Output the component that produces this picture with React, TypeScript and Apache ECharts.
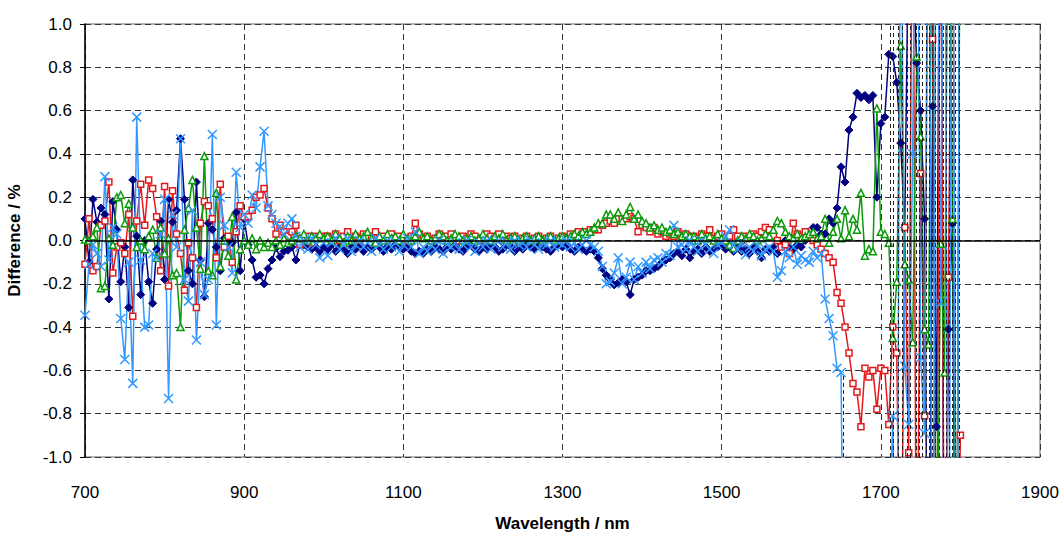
import React, { useEffect, useRef } from "react";
import * as echarts from "echarts";

const wavelengths = [
  700, 705, 710, 715, 720, 725, 730, 735, 740, 745, 750, 755, 760, 765, 770, 775, 780, 785, 790, 795,
  800, 805, 810, 815, 820, 825, 830, 835, 840, 845, 850, 855, 860, 865, 870, 875, 880, 885, 890, 895,
  900, 905, 910, 915, 920, 925, 930, 935, 940, 945, 950, 955, 960, 965, 970, 975, 980, 985, 990, 995,
  1000, 1005, 1010, 1015, 1020, 1025, 1030, 1035, 1040, 1045, 1050, 1055, 1060, 1065, 1070, 1075, 1080, 1085, 1090, 1095,
  1100, 1105, 1110, 1115, 1120, 1125, 1130, 1135, 1140, 1145, 1150, 1155, 1160, 1165, 1170, 1175, 1180, 1185, 1190, 1195,
  1200, 1205, 1210, 1215, 1220, 1225, 1230, 1235, 1240, 1245, 1250, 1255, 1260, 1265, 1270, 1275, 1280, 1285, 1290, 1295,
  1300, 1305, 1310, 1315, 1320, 1325, 1330, 1335, 1340, 1345, 1350, 1355, 1360, 1365, 1370, 1375, 1380, 1385, 1390, 1395,
  1400, 1405, 1410, 1415, 1420, 1425, 1430, 1435, 1440, 1445, 1450, 1455, 1460, 1465, 1470, 1475, 1480, 1485, 1490, 1495,
  1500, 1505, 1510, 1515, 1520, 1525, 1530, 1535, 1540, 1545, 1550, 1555, 1560, 1565, 1570, 1575, 1580, 1585, 1590, 1595,
  1600, 1605, 1610, 1615, 1620, 1625, 1630, 1635, 1640, 1645, 1650, 1655, 1660, 1665, 1670, 1675, 1680, 1685, 1690, 1695,
  1700, 1705, 1710, 1715, 1720, 1725, 1730, 1735, 1740, 1745, 1750, 1755, 1760, 1765, 1770, 1775, 1780, 1785, 1790, 1795,
  1800,
];

const seriesNavy = [
  0.10, -0.10, 0.19, 0.085, 0.15, 0.12, -0.27, 0.18, 0.05, -0.19, -0.03, -0.31, 0.28, 0.02, -0.25, 0.00, -0.19, -0.29, -0.04, 0.09,
  -0.18, 0.19, 0.085, 0.14, 0.47, 0.19, -0.14, -0.20, 0.27, -0.09, -0.26, 0.08, 0.05, -0.03, -0.14, 0.01, -0.01, -0.01, 0.13, -0.14,
  0.10, -0.02, -0.09, -0.17, -0.16, -0.20, -0.13, -0.09, -0.035, -0.075, -0.05, -0.045, -0.03, -0.09, -0.02, -0.02, -0.03, -0.04, -0.03, -0.05,
  -0.03, -0.04, -0.02, -0.05, -0.03, -0.04, -0.06, -0.03, -0.04, -0.02, -0.05, -0.03, -0.04, -0.02, -0.03, -0.05, -0.03, -0.04, -0.02, -0.03,
  -0.04, -0.03, -0.05, -0.06, -0.05, -0.06, -0.04, -0.05, -0.03, -0.04, -0.05, -0.03, -0.04, -0.02, -0.04, -0.05, -0.03, -0.02, -0.04, -0.05,
  -0.03, -0.04, -0.02, -0.03, -0.05, -0.04, -0.02, -0.03, -0.05, -0.03, -0.04, -0.02, -0.03, -0.04, -0.02, -0.03, -0.04, -0.05, -0.03, -0.02,
  -0.03, -0.02, -0.04, -0.05, -0.03, -0.04, -0.05, -0.04, -0.05, -0.08, -0.13, -0.16, -0.18, -0.205, -0.195, -0.18, -0.19, -0.25, -0.18, -0.17,
  -0.16, -0.14, -0.14, -0.13, -0.12, -0.10, -0.09, -0.08, -0.06, -0.05, -0.07, -0.04, -0.08, -0.05, -0.04, -0.06, -0.03, -0.05, -0.04, -0.03,
  -0.02, -0.04, -0.03, -0.05, -0.03, -0.05, -0.04, -0.06, -0.03, -0.05, -0.08, -0.04, -0.05, -0.03, -0.06, -0.02, 0.00, -0.03, -0.04, -0.02,
  -0.03, 0.00, 0.02, 0.06, 0.06, 0.03, 0.03, 0.10, 0.08, 0.15, 0.34, 0.27, 0.51, 0.57, 0.68, 0.66, 0.67, 0.65, 0.67, 0.20,
  0.54, 0.57, 0.86, 0.85, 0.73, 0.45, 0.06, 1.5, 1.3, 0.82, 0.60, 0.10, -2.5, 0.62, -0.86, 2.5, -2.5, -0.41, 0.08, -2.5,
  2.5,
];

const seriesRed = [
  -0.11, 0.10, -0.14, -0.12, 0.07, 0.09, 0.27, -0.15, -0.03, -0.01, -0.06, 0.12, -0.35, 0.09, 0.26, 0.07, 0.28, 0.24, 0.11, -0.14,
  0.25, -0.21, 0.23, 0.03, -0.06, -0.23, -0.01, -0.08, -0.31, 0.08, 0.18, 0.16, 0.10, -0.08, 0.26, -0.03, 0.02, -0.10, 0.04, 0.16,
  0.11, 0.11, 0.14, 0.20, 0.21, 0.24, 0.15, 0.10, 0.03, 0.07, 0.04, 0.02, 0.04, 0.07, -0.02, 0.01, 0.02, -0.01, 0.02, 0.01,
  0.02, 0.02, 0.01, 0.03, 0.00, 0.02, 0.04, 0.01, 0.02, 0.00, 0.03, 0.01, 0.02, 0.04, 0.01, 0.02, 0.00, 0.03, 0.01, 0.02,
  0.01, 0.00, 0.02, 0.08, 0.03, 0.01, 0.02, 0.00, 0.01, 0.03, 0.01, 0.02, 0.03, 0.01, 0.00, 0.02, 0.01, 0.03, 0.02, 0.00,
  0.01, 0.03, 0.02, 0.01, 0.03, 0.00, 0.02, 0.01, 0.02, 0.00, 0.01, 0.02, 0.00, 0.01, 0.02, 0.00, 0.01, 0.02, 0.00, 0.01,
  0.02, 0.01, 0.03, 0.02, 0.04, 0.03, 0.04, 0.05, 0.05, 0.05, 0.07, 0.08, 0.09, 0.08, 0.10, 0.10, 0.10, 0.11, 0.10, 0.04,
  0.07, 0.06, 0.04, 0.06, 0.03, 0.04, 0.02, 0.03, 0.02, 0.04, 0.02, 0.03, 0.01, 0.02, 0.01, 0.03, 0.02, 0.05, 0.01, 0.02,
  0.03, 0.01, 0.02, 0.05, 0.02, 0.00, 0.02, 0.01, 0.03, 0.02, 0.04, 0.06, 0.05, 0.02, 0.00, -0.03, -0.02, -0.06, 0.08, 0.03,
  0.02, 0.04, 0.01, 0.00, -0.02, -0.04, -0.06, -0.08, -0.10, -0.24, -0.29, -0.40, -0.52, -0.66, -0.70, -0.86, -0.59, -0.63, -0.60, -0.78,
  -0.59, -0.60, -0.85, -0.40, -0.52, -2.0, 0.06, -0.98, 2.0, -2.0, 0.31, -0.81, 2.0, 0.93, -2.0, 2.0, -2.0, -0.17, 2.0, -2.0,
  -0.90,
];

const seriesGreen = [
  0.005, 0.0, 0.02, 0.06, -0.22, -0.21, 0.01, -0.02, 0.20, 0.21, 0.08, 0.17, 0.06, -0.03, 0.0, -0.04, 0.02, 0.05, -0.08, 0.06,
  -0.06, 0.01, -0.16, -0.15, -0.40, 0.05, 0.15, 0.28, 0.06, -0.13, 0.39, -0.14, -0.16, 0.22, -0.12, 0.00, -0.07, 0.11, -0.18, -0.04,
  0.00, -0.02, 0.01, -0.04, 0.00, -0.03, -0.01, -0.03, 0.00, -0.02, 0.01, -0.01, 0.00, 0.02, 0.01, 0.03, 0.00, 0.02, 0.01, 0.03,
  0.01, 0.02, 0.00, 0.03, 0.01, -0.01, 0.02, 0.00, 0.03, 0.01, 0.02, 0.04, 0.01, -0.01, 0.02, 0.00, 0.03, 0.01, 0.02, 0.00,
  0.03, 0.01, 0.00, 0.02, 0.04, 0.01, 0.02, 0.00, 0.01, 0.03, 0.02, 0.00, 0.01, 0.03, 0.02, 0.00, 0.01, 0.02, 0.00, 0.01,
  0.03, 0.01, 0.00, 0.02, 0.01, 0.03, 0.00, 0.01, 0.02, 0.00, 0.01, 0.02, 0.00, 0.01, 0.02, 0.00, 0.01, 0.02, 0.00, 0.01,
  0.02, 0.01, 0.02, 0.03, 0.02, 0.04, 0.03, 0.04, 0.06, 0.08, 0.08, 0.12, 0.12, 0.10, 0.13, 0.09, 0.12, 0.155, 0.10, 0.12,
  0.09, 0.08, 0.06, 0.07, 0.05, 0.06, 0.04, 0.05, 0.03, 0.04, 0.02, 0.03, 0.02, 0.02, 0.00, 0.03, 0.01, 0.02, 0.00, 0.03,
  0.01, 0.00, -0.02, -0.035, 0.00, 0.02, 0.01, 0.03, 0.02, 0.00, 0.01, 0.03, 0.02, 0.05, 0.09, 0.08, 0.04, 0.02, 0.01, 0.03,
  0.01, 0.02, 0.03, 0.04, 0.01, 0.02, 0.10, -0.01, 0.04, 0.10, 0.01, 0.14, 0.02, 0.10, 0.05, 0.22, -0.07, -0.04, -0.05, 0.61,
  0.04, 0.03, -0.01, -0.45, -0.19, 0.90, -0.11, -0.18, -0.47, 0.85, 0.48, -0.41, -0.48, 2.0, -2.0, -0.015, -0.61, 2.0, 0.10, -2.0,
  2.0,
];

const seriesBlue = [
  -0.345, -0.11, -0.02, -0.06, -0.12, 0.295, -0.09, 0.06, 0.03, -0.36, -0.55, -0.10, -0.66, 0.57, -0.09, -0.40, -0.39, -0.06, -0.08, 0.03,
  0.19, -0.73, 0.12, -0.03, 0.47, -0.18, -0.28, 0.14, -0.46, -0.10, -0.25, -0.18, 0.49, -0.39, 0.20, 0.07, -0.03, -0.15, 0.315, 0.06,
  0.12, 0.08, 0.21, 0.15, 0.34, 0.505, 0.16, 0.12, 0.08, 0.065, 0.03, 0.08, 0.10, 0.02, -0.03, 0.00, -0.04, 0.01, -0.02, -0.08,
  -0.01, -0.07, -0.01, 0.01, -0.04, -0.02, 0.01, -0.05, -0.02, 0.00, -0.03, -0.01, -0.05, 0.01, -0.02, -0.04, 0.00, -0.03, -0.01, -0.05,
  -0.02, 0.01, -0.03, 0.04, -0.06, -0.03, -0.05, -0.02, -0.04, 0.00, -0.06, -0.02, -0.03, -0.01, -0.04, -0.02, 0.00, -0.03, -0.05, -0.01,
  -0.03, 0.00, -0.04, -0.02, 0.00, -0.03, -0.01, -0.04, 0.00, -0.02, -0.01, -0.03, 0.00, -0.02, -0.04, -0.01, -0.02, 0.00, -0.03, -0.01,
  -0.02, 0.00, -0.03, -0.01, -0.04, -0.02, 0.00, -0.02, -0.03, -0.05, -0.12, -0.20, -0.19, -0.15, -0.08, -0.20, -0.17, -0.10, -0.18, -0.12,
  -0.15, -0.10, -0.13, -0.09, -0.08, -0.10, -0.06, -0.07, 0.07, -0.03, -0.02, -0.04, 0.00, -0.03, -0.05, 0.00, -0.02, -0.04, -0.06, -0.02,
  -0.01, 0.02, 0.05, -0.02, -0.04, -0.01, -0.066, -0.03, -0.05, -0.02, -0.07, -0.04, -0.03, -0.05, -0.17, -0.14, -0.05, -0.08, -0.03, -0.11,
  -0.07, -0.09, -0.10, -0.05, -0.08, -0.06, -0.27, -0.36, -0.44, -0.59, -0.61, -2.5, -3.0, -2.2, -2.8, -3.5, -2.6, -3.1, -2.4, -2.9,
  -3.2, -2.5, -1.5, -0.81, -2.0, 2.0, -0.58, -0.85, 0.40, 2.5, -0.54, -0.89, 2.5, -2.5, 2.5, -0.29, 2.5, -2.5, 2.5, -2.5,
  2.5,
];

// wavelengths where the off-scale traces leave dashed drop lines in the original
const dropLinesFull = [1712, 1716, 1722, 1727, 1733, 1737, 1744, 1748, 1752, 1757, 1761, 1765, 1769, 1774, 1778, 1782, 1786, 1790, 1794, 1798];
const dropLinePartial = { x: 1653, top: -0.61 };

const xTicks = { min: 700, max: 1900, interval: 200 };
const yTicks = { min: -1, max: 1, interval: 0.2 };

const FONT = "'Liberation Sans Narrow', 'Liberation Sans', Arial, sans-serif";
const CROSS = "path://M0,0L10,10M10,0L0,10";

function pairs(values: number[]) {
  return wavelengths.map((w, i) => [w, values[i]]);
}

export default function App() {
  const ref = useRef<HTMLDivElement>(null);
  useEffect(() => {
    if (!ref.current) return;
    const chart = echarts.init(ref.current, undefined, { renderer: "svg" });
    const gridLine = { show: true, lineStyle: { color: "#333", type: [6, 4] as any, width: 1 } };
    const mk = (name: string, data: number[], color: string, symbol: string, size: number, hollow: boolean, extra: any = {}) => ({
      name,
      type: "line",
      data: pairs(data),
      symbol,
      symbolSize: size,
      clip: true,
      showAllSymbol: true,
      lineStyle: { color, width: 1.5 },
      itemStyle: hollow
        ? { color: "#fff", borderColor: color, borderWidth: 1.5 }
        : { color, borderColor: color, borderWidth: 1 },
      emphasis: { disabled: true },
      z: 3,
      ...extra,
    });
    const dropData: any[] = dropLinesFull.map((x) => [
      { coord: [x, yTicks.min] },
      { coord: [x, yTicks.max] },
    ]);
    dropData.push([
      { coord: [dropLinePartial.x, yTicks.min] },
      { coord: [dropLinePartial.x, dropLinePartial.top] },
    ]);
    chart.setOption({
      animation: false,
      backgroundColor: "#fff",
      grid: {
        left: 85, right: 23, top: 24, bottom: 78,
        outerBoundsMode: "none", containLabel: false,
        show: true, borderColor: "#999", borderWidth: 1.5,
      },
      xAxis: {
        type: "value",
        min: xTicks.min,
        max: xTicks.max,
        interval: xTicks.interval,
        name: "Wavelength / nm",
        nameLocation: "middle",
        nameGap: 58,
        nameTextStyle: { fontFamily: FONT, fontSize: 17, fontWeight: "bold", color: "#000" },
        axisLine: { show: false },
        axisTick: { show: false },
        axisLabel: { fontFamily: FONT, fontSize: 17, color: "#000", margin: 27, formatter: (v: number) => String(v) },
        splitLine: gridLine,
      },
      yAxis: {
        type: "value",
        min: yTicks.min,
        max: yTicks.max,
        interval: yTicks.interval,
        name: "Difference / %",
        nameLocation: "middle",
        nameGap: 62,
        nameTextStyle: { fontFamily: FONT, fontSize: 17, fontWeight: "bold", color: "#000" },
        axisLine: { show: true, lineStyle: { color: "#000", width: 1.5 } },
        axisTick: { show: true, length: 5, lineStyle: { color: "#000" } },
        axisLabel: { fontFamily: FONT, fontSize: 17, color: "#000", margin: 13, formatter: (v: number) => v.toFixed(1) },
        splitLine: gridLine,
      },
      series: [
        mk("A", seriesNavy, "#000080", "diamond", 8, false, {
          markLine: {
            silent: true,
            symbol: "none",
            label: { show: false },
            lineStyle: { color: "#000", type: "solid", width: 1.5 },
            data: [{ yAxis: 0 }],
          },
        }),
        mk("B", seriesRed, "#e31a1c", "rect", 6, true),
        mk("C", seriesGreen, "#0a9a0a", "triangle", 7, true),
        mk("D", seriesBlue, "#3399ff", CROSS, 9, false, {
          itemStyle: { color: "#3399ff", borderColor: "#3399ff", borderWidth: 1.5 },
          markLine: {
            silent: true,
            symbol: "none",
            label: { show: false },
            lineStyle: { color: "#222", type: [4, 3], width: 1 },
            data: dropData,
          },
        }),
      ],
    });
    return () => chart.dispose();
  }, []);
  return <div ref={ref} style={{ position: "fixed", left: 0, top: 0, width: 1063, height: 535 }} />;
}
